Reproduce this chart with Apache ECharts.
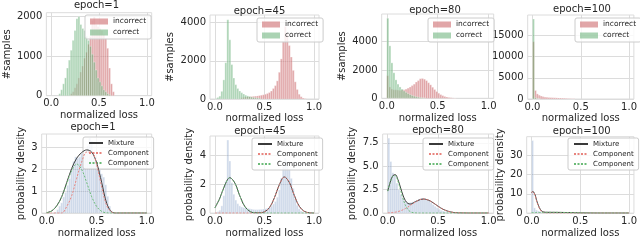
<!DOCTYPE html>
<html><head><meta charset="utf-8">
<script src="https://cdn.jsdelivr.net/npm/echarts@6/dist/echarts.min.js"></script>
<style>html,body{margin:0;padding:0;background:#fff}#c{width:640px;height:240px}</style>
</head><body><div id="c"></div>
<script>
// ---------- data ----------
const BIN_EDGES = [0,0.02,0.04,0.06,0.08,0.1,0.12,0.14,0.16,0.18,0.2,0.22,0.24,0.26,0.28,0.3,0.32,0.34,0.36,0.38,0.4,0.42,0.44,0.46,0.48,0.5,0.52,0.54,0.56,0.58,0.6,0.62,0.64,0.66,0.68,0.7,0.72,0.74,0.76,0.78,0.8,0.82,0.84,0.86,0.88,0.9,0.92,0.94,0.96,0.98,1.0];
const TITLES = ['epoch=1','epoch=45','epoch=80','epoch=100'];
const X_TICKS = [0, 0.5, 1.0];
const X_TICK_LABELS = ['0.0','0.5','1.0'];
const Y_TICKS_TOP = [[0,1000,2000],[0,2000,4000],[0,2000,4000],[0,5000,10000,15000]];
const Y_TICKS_BOT = [[0,1,2,3],[0,2,4],[0,2.5,5,7.5],[0,10,20,30]];
const Y_TICK_LABELS_BOT = [['0','1','2','3'],['0','2','4'],['0.0','2.5','5.0','7.5'],['0','10','20','30']];

// top row: sample counts per bin
const E1_INCORRECT = [0,0,0,0,0,0,0,0,0,0, 50,100,200,300,450,600,750,950,1100,1300, 1500,1900,2000,1800,1750,1700,1650,1550,1450,1200, 700,300,100,0,0,0,0,0,0,0, 0,0,0,0,0,0,0,0,0,0];
const E1_CORRECT   = [0,0,0,0,50,150,300,450,700,900, 1150,1400,1650,1950,2000,1800,1700,1650,1500,1400, 1250,1050,850,650,450,350,250,150,100,50, 30,0,0,0,0,0,0,0,0,0, 0,0,0,0,0,0,0,0,0,0];
const E45_INCORRECT = [0,0,0,0,0,0,0,0,0,0, 0,0,0,60,80,100,110,120,130,140, 150,160,180,200,220,250,290,340,420,550, 700,950,1400,2100,3000,3800,3400,2800,2200,1500, 900,500,250,120,50,20,0,0,0,0];
const E45_CORRECT   = [30,80,150,400,1000,1900,4150,3100,1800,1100, 750,550,420,330,260,200,160,130,100,80, 60,50,40,0,0,0,0,0,0,0, 0,0,0,0,0,0,0,0,0,0, 0,0,0,0,0,0,0,0,0,0];
const E80_INCORRECT = [1600,800,650,600,600,580,560,580,600,650, 720,800,900,1000,1150,1250,1380,1400,1350,1250, 1100,950,780,620,480,360,260,190,130,90, 60,40,25,15,0,0,0,0,0,0, 0,0,0,0,0,0,0,0,0,0];
const E80_CORRECT   = [5650,3700,2500,1800,1300,1000,800,650,520,420, 330,260,200,150,110,80,50,30,20,0, 0,0,0,0,0,0,0,0,0,0, 0,0,0,0,0,0,0,0,0,0, 0,0,0,0,0,0,0,0,0,0];
const E100_INCORRECT = [13500,2000,1200,900,700,550,450,400,350,320, 300,280,260,240,220,200,180,150,120,90, 60,40,0,0,0,0,0,0,0,0, 0,0,0,0,0,0,0,0,0,0, 0,0,0,0,0,0,0,0,0,0];
const E100_CORRECT   = [18850,300,100,50,0,0,0,0,0,0, 0,0,0,0,0,0,0,0,0,0, 0,0,0,0,0,0,0,0,0,0, 0,0,0,0,0,0,0,0,0,0, 0,0,0,0,0,0,0,0,0,0];

// bottom row: density histogram of all samples
const D1   = [0,0,0,0,0.05,0.16,0.32,0.47,0.74,0.95, 1.27,1.58,1.95,2.37,2.58,2.53,2.58,2.74,2.74,2.85, 3.1,3.45,3.3,2.6,2.3,2.15,2.0,1.8,1.65,1.3, 0.77,0.32,0.11,0,0,0,0,0,0,0, 0,0,0,0,0,0,0,0,0,0];
const D45  = [0.05,0.1,0.2,0.5,1.2,2.2,5.05,3.6,2.1,1.3, 0.9,0.65,0.5,0.42,0.38,0.35,0.33,0.3,0.28,0.25, 0.24,0.24,0.25,0.26,0.28,0.3,0.34,0.4,0.48,0.63, 0.8,1.1,1.6,2.4,3.2,3.8,3.5,3.0,2.4,1.7, 1.0,0.55,0.3,0.14,0.06,0.02,0,0,0,0];
const D80  = [8.0,5.5,4.3,4.0,3.2,2.5,2.0,1.6,1.3,1.15, 1.1,1.15,1.2,1.3,1.4,1.5,1.6,1.6,1.55,1.45, 1.3,1.1,0.9,0.72,0.56,0.42,0.3,0.22,0.15,0.1, 0.07,0.05,0.03,0.02,0,0,0,0,0,0, 0,0,0,0,0,0,0,0,0,0];
const D100 = [37.6,2.7,1.55,1.1,0.85,0.65,0.55,0.48,0.42,0.38, 0.36,0.33,0.31,0.29,0.26,0.24,0.21,0.18,0.14,0.11, 0.07,0.05,0,0,0,0,0,0,0,0, 0,0,0,0,0,0,0,0,0,0, 0,0,0,0,0,0,0,0,0,0];

// fitted curves
const X1 = [0,0.05,0.1,0.15,0.2,0.25,0.3,0.35,0.4,0.45,0.5,0.55,0.6,0.65,0.7,0.75,0.8,0.85,0.9,0.95,1.0];
const MIX1 = [0.02,0.1,0.33,0.75,1.4,2.05,2.52,2.78,2.9,2.8,2.3,1.4,0.45,0.05,0,0,0,0,0,0,0];
const RC1  = [0,0,0,0,0.3,0.8,1.6,2.35,2.8,2.8,2.2,1.2,0.35,0.05,0,0,0,0,0,0,0];
const GC1  = [0.02,0.1,0.33,0.75,1.35,1.95,2.25,2.0,1.4,0.75,0.3,0.08,0.01,0,0,0,0,0,0,0,0];
const X45 = [0,0.05,0.1,0.15,0.2,0.25,0.3,0.35,0.4,0.45,0.5,0.55,0.6,0.65,0.7,0.75,0.8,0.85,0.9,0.95,1.0];
const MIX45 = [0.37,1.04,1.94,2.45,2.09,1.21,0.47,0.13,0.02,0.02,0.09,0.38,1.06,1.97,2.5,2.13,1.24,0.48,0.13,0.02,0];
const RC45  = [0,0,0,0,0,0,0,0,0,0.02,0.09,0.38,1.06,1.97,2.5,2.13,1.24,0.48,0.13,0.02,0];
const GC45  = [0.37,1.04,1.94,2.45,2.09,1.21,0.47,0.13,0.02,0,0,0,0,0,0,0,0,0,0,0,0];
const X80 = [0,0.025,0.05,0.075,0.1,0.125,0.15,0.175,0.2,0.225,0.25,0.3,0.35,0.4,0.45,0.5,0.55,0.6,0.65,0.7,0.75,0.8,0.9,1.0];
const MIX80 = [2.36,3.32,3.99,4.1,3.61,2.78,1.93,1.33,1.03,0.97,1.07,1.35,1.5,1.4,1.1,0.72,0.4,0.19,0.07,0.02,0.01,0,0,0];
const RC80  = [0.02,0.03,0.06,0.1,0.16,0.24,0.35,0.49,0.65,0.83,1.02,1.35,1.5,1.4,1.1,0.72,0.4,0.19,0.07,0.02,0.01,0,0,0];
const GC80  = [2.34,3.29,3.93,4.0,3.45,2.54,1.58,0.84,0.38,0.14,0.05,0,0,0,0,0,0,0,0,0,0,0,0,0];
const X100 = [0,0.01,0.02,0.03,0.04,0.05,0.06,0.07,0.08,0.09,0.1,0.11,0.12,0.14,0.2,0.3,0.4,0.5,0.6,0.7,0.8,0.9,1.0];
const MIX100 = [10.7,11.22,11.04,10.16,8.87,6.88,5.29,4.0,2.81,1.92,1.28,0.89,0.64,0.43,0.4,0.35,0.25,0.1,0.03,0,0,0,0];
const RC100  = [10.5,11.0,10.8,9.9,8.6,6.6,5.0,3.7,2.5,1.6,0.95,0.55,0.29,0.07,0,0,0,0,0,0,0,0,0];
const GC100  = [0.2,0.22,0.24,0.26,0.27,0.28,0.29,0.3,0.31,0.32,0.33,0.34,0.35,0.36,0.4,0.35,0.25,0.1,0.03,0,0,0,0];

// ---------- layout & style ----------
const FONT = 'DejaVu Sans';
const TXT = '#262626';
const GRIDC = '#dcdcdc';
const RED_BAR = 'rgba(196,78,82,0.5)';
const GREEN_BAR = 'rgba(85,168,104,0.5)';
const BLUE_BAR = 'rgba(76,114,176,0.28)';
const MIX_C = '#3a3a3a', RC_C = '#e8847e', GC_C = '#6cbb78';

const TOP = [
  {l:40.7,t:12.7,w:111,h:83,ymax:2100, tx:96.5, ty:5,  xg:12.3, yg:33.7, lg:[85,15]},
  {l:210, t:15,  w:109,h:84,ymax:4400, tx:259.5,ty:11.7,xg:15,  yg:39,   lg:[257,18]},
  {l:381.7,t:14, w:112,h:84.3,ymax:5950,tx:435,ty:10,  xg:14.7, yg:33.7, lg:[428,18]},
  {l:527.7,t:15, w:109,h:84,ymax:19800,tx:582,ty:9.3,  xg:12,   yg:null, lg:[575,18]}
];
const BOT = [
  {l:41.7,t:134,w:110,h:82.7,ymax:3.63, tx:93,  ty:127.3,xg:11.5,yg:11.7,lg:[83,137]},
  {l:210, t:136,w:109,h:83.3,ymax:5.33, tx:260, ty:131.7,xg:15.4,yg:12,  lg:[252,138]},
  {l:382.7,t:134,w:111,h:84.3,ymax:8.44,tx:438, ty:130,  xg:14.7,yg:19.7,lg:[423,138]},
  {l:526.7,t:136.7,w:109,h:83.3,ymax:39.6,tx:581.7,ty:131.7,xg:14.7,yg:18.7,lg:[568,138]}
];
const TOP_DATA = [[E1_INCORRECT,E1_CORRECT],[E45_INCORRECT,E45_CORRECT],[E80_INCORRECT,E80_CORRECT],[E100_INCORRECT,E100_CORRECT]];
const BOT_DATA = [[D1,X1,MIX1,RC1,GC1],[D45,X45,MIX45,RC45,GC45],[D80,X80,MIX80,RC80,GC80],[D100,X100,MIX100,RC100,GC100]];

function binData(vals){ return vals.map((v,i)=>[BIN_EDGES[i],BIN_EDGES[i+1],v]); }
function barRender(params, api){
  const h = api.value(2);
  if (!h) return null;
  const a = api.coord([api.value(0), h]);
  const b = api.coord([api.value(1), 0]);
  return {type:'rect', shape:{x:a[0], y:a[1], width:b[0]-a[0], height:b[1]-a[1]},
          style:{fill:api.visual('color'), stroke:'rgba(255,255,255,0.75)', lineWidth:0.4}};
}
const txt = (size)=>({fontFamily:FONT, fontSize:size, color:TXT});

const option = {animation:false, backgroundColor:'#fff', textStyle:{fontFamily:FONT},
  grid:[], xAxis:[], yAxis:[], series:[], title:[], legend:[]};

function addPanel(L, yTicks, yLabels, yName){
  const gi = option.grid.length;
  option.grid.push({left:L.l, top:L.t, width:L.w, height:L.h, show:true, borderColor:GRIDC, borderWidth:1, backgroundColor:'#fff'});
  option.xAxis.push({gridIndex:gi, type:'value', min:-0.05, max:1.05,
    axisLine:{show:false}, axisTick:{show:false, customValues:X_TICKS},
    axisLabel:{customValues:X_TICKS, formatter:(v)=>X_TICK_LABELS[X_TICKS.indexOf(v)] ?? '', margin:3, ...txt(10)},
    splitLine:{show:true, lineStyle:{color:GRIDC, width:1}},
    name:'normalized loss', nameLocation:'middle', nameGap:L.xg-6, nameTextStyle:{...txt(10), lineHeight:12}});
  const ya = {gridIndex:gi, type:'value', min:0, max:L.ymax,
    axisLine:{show:false}, axisTick:{show:false, customValues:yTicks},
    axisLabel:{customValues:yTicks, formatter:(v)=>{const k=yTicks.indexOf(v); return k<0?'':yLabels[k];}, margin:4, ...txt(10)},
    splitLine:{show:true, lineStyle:{color:GRIDC, width:1}}};
  if (yName && L.yg!=null){ Object.assign(ya,{name:yName, nameLocation:'middle', nameGap:L.yg-6, nameTextStyle:{...txt(10), lineHeight:12}}); }
  option.yAxis.push(ya);
  return gi;
}

TOP.forEach((L,p)=>{
  const gi = addPanel(L, Y_TICKS_TOP[p], Y_TICKS_TOP[p].map(String), '#samples');
  const [inc, cor] = TOP_DATA[p];
  option.series.push({type:'custom', name:'incorrect', xAxisIndex:gi, yAxisIndex:gi, renderItem:barRender,
    itemStyle:{color:RED_BAR}, encode:{x:[0,1], y:2}, data:binData(inc), z:2});
  option.series.push({type:'custom', name:'correct', xAxisIndex:gi, yAxisIndex:gi, renderItem:barRender,
    itemStyle:{color:GREEN_BAR}, encode:{x:[0,1], y:2}, data:binData(cor), z:3});
  option.title.push({text:TITLES[p], left:L.tx, top:L.ty-6, textAlign:'center', padding:0,
    textStyle:{...txt(10), fontWeight:'normal', lineHeight:12}});
  option.legend.push({left:L.lg[0], top:L.lg[1], orient:'vertical', align:'left', selectedMode:false,
    data:['incorrect','correct'], icon:'rect', itemWidth:18, itemHeight:6, itemGap:2,
    padding:[2,5,2,5], backgroundColor:'rgba(255,255,255,0.8)', borderColor:'#cccccc', borderWidth:1, borderRadius:2,
    textStyle:{...txt(7.5), lineHeight:9}});
});

BOT.forEach((L,p)=>{
  const gi = addPanel(L, Y_TICKS_BOT[p], Y_TICK_LABELS_BOT[p], 'probability density');
  const [dens, X, mix, rc, gc] = BOT_DATA[p];
  option.series.push({type:'custom', name:'hist', xAxisIndex:gi, yAxisIndex:gi, renderItem:barRender,
    itemStyle:{color:BLUE_BAR}, encode:{x:[0,1], y:2}, data:binData(dens), z:2});
  const pts = (Y)=>X.map((x,i)=>[x,Y[i]]);
  option.series.push({type:'line', name:'Mixture', xAxisIndex:gi, yAxisIndex:gi, data:pts(mix), symbol:'none', smooth:0.35,
    lineStyle:{color:MIX_C, width:1}, itemStyle:{color:MIX_C}, z:4});
  option.series.push({type:'line', name:'Component', xAxisIndex:gi, yAxisIndex:gi, data:pts(rc), symbol:'none', smooth:0.35,
    lineStyle:{color:RC_C, width:1, type:[2,1.5]}, itemStyle:{color:RC_C}, z:5});
  option.series.push({type:'line', name:'Component ', xAxisIndex:gi, yAxisIndex:gi, data:pts(gc), symbol:'none', smooth:0.35,
    lineStyle:{color:GC_C, width:1, type:[2,1.5]}, itemStyle:{color:GC_C}, z:6});
  option.title.push({text:TITLES[p], left:L.tx, top:L.ty-6, textAlign:'center', padding:0,
    textStyle:{...txt(10), fontWeight:'normal', lineHeight:12}});
  option.legend.push({left:L.lg[0], top:L.lg[1], orient:'vertical', align:'left', selectedMode:false,
    data:['Mixture','Component','Component '], formatter:(n)=>n.trim(), itemWidth:14, itemHeight:6, itemGap:2,
    itemStyle:{color:'rgba(0,0,0,0)', borderColor:'rgba(0,0,0,0)', borderWidth:0, opacity:0},
    padding:[2,5,2,5], backgroundColor:'rgba(255,255,255,0.8)', borderColor:'#cccccc', borderWidth:1, borderRadius:2,
    textStyle:{...txt(7), lineHeight:8}});
});

const chart = echarts.init(document.getElementById('c'), null, {renderer:'canvas'});
chart.setOption(option);
</script></body></html>
